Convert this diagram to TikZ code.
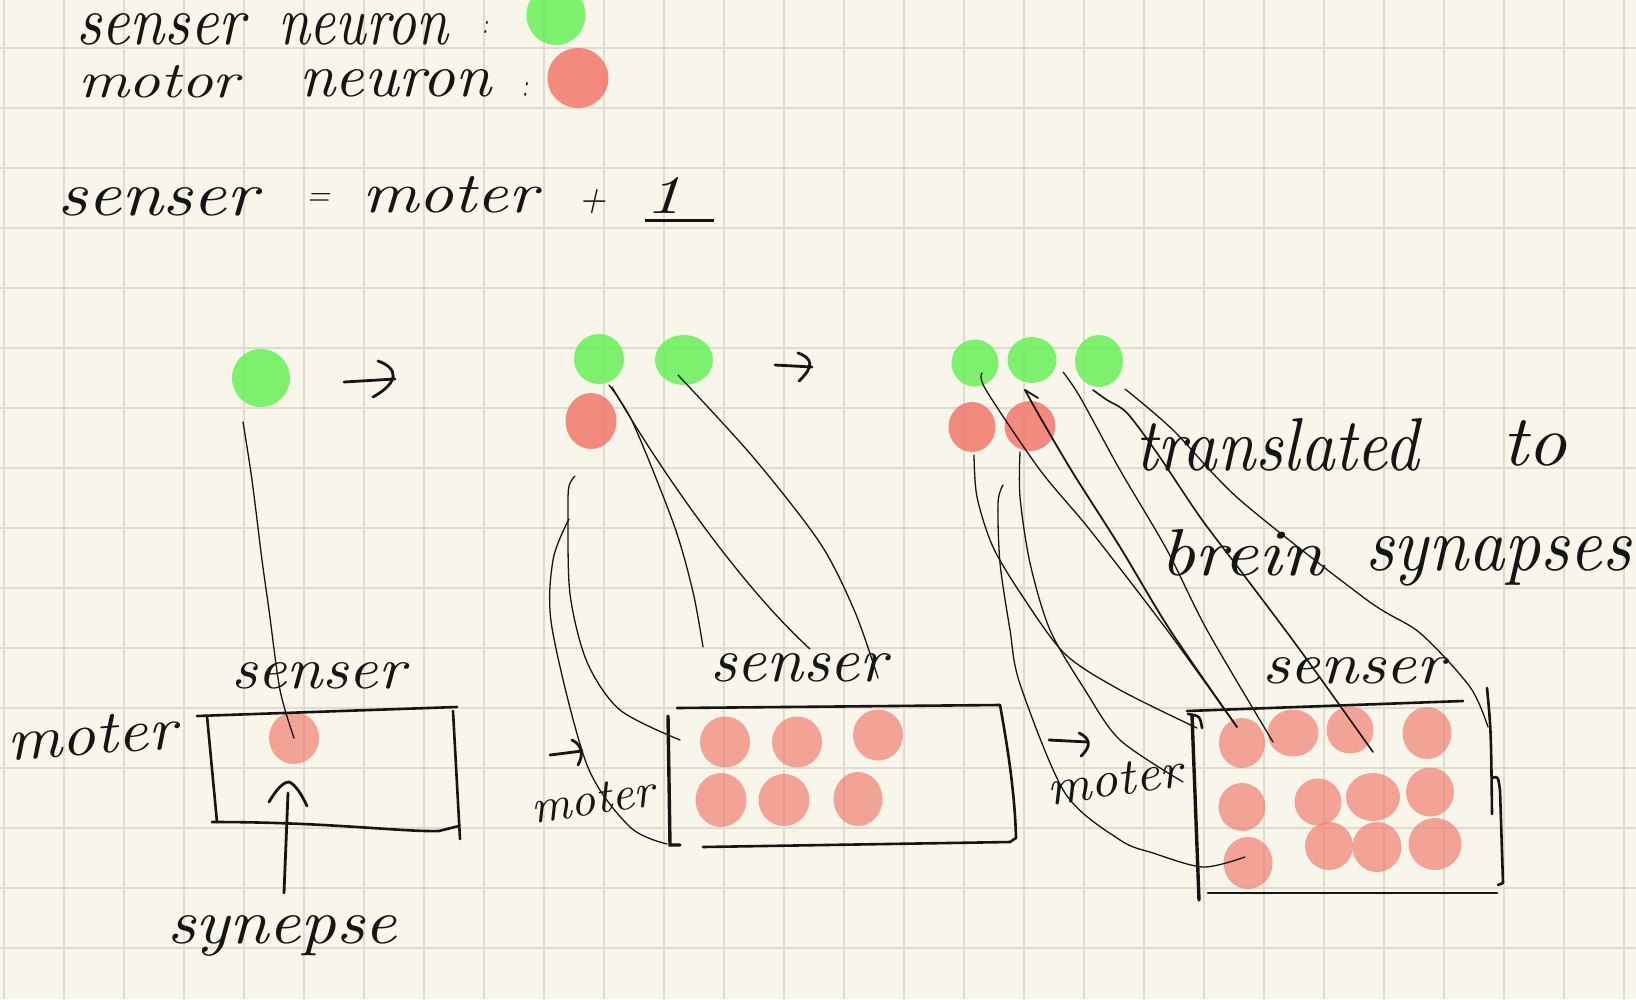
\documentclass[tikz,border=0pt]{standalone}
\usepackage{graphicx}
\usetikzlibrary{shapes.geometric}
\definecolor{paper}{HTML}{F8F6EA}
\definecolor{gridc}{HTML}{DFDBCF}
\definecolor{neugreen}{HTML}{68EF58}
\definecolor{neured}{HTML}{F1786C}
\definecolor{ink}{HTML}{151515}
\newcommand{\handw}[3]{\resizebox{#1pt}{#2pt}{\itshape #3}}
\tikzset{
  gridline/.style={gridc, line width=2.4pt},
  dotsz/.style 2 args={minimum width=#1pt, minimum height=#2pt},
  gdot/.style={ellipse, fill=neugreen, fill opacity=0.85, draw=none, inner sep=0pt, outer sep=0pt},
  tdot/.style={ellipse, fill=neured, fill opacity=0.85, draw=none, inner sep=0pt, outer sep=0pt},
  bdot/.style={ellipse, fill=neured, fill opacity=0.66, draw=none, inner sep=0pt, outer sep=0pt},
  hw/.style={inner sep=0pt, outer sep=0pt, anchor=base west, text=ink},
  wire/.style={ink, line width=1.3pt, line cap=round, line join=round},
  boxline/.style={ink, line width=2.6pt, line cap=round, line join=round},
  pen/.style={ink, line width=2.8pt, line cap=round, line join=round},
}
\begin{document}
\begin{tikzpicture}[x=1pt, y=-1pt]
\useasboundingbox (0,0) rectangle (1636,999);
\fill[paper] (0,0) rectangle (1636,999);
\foreach \i in {0,...,27} \draw[gridline] ({4+60*\i},0) -- ({4+60*\i},999);
\foreach \j in {0,...,15} \draw[gridline] (0,{48+60*\j}) -- (1636,{48+60*\j});

% ---------- legend ----------
\node[gdot, dotsz={59}{60}] (lg) at (556,15) {};
\node[tdot, dotsz={61}{60}] (lr) at (578,78) {};
\node[hw] (l1a) at (76,44) {\handw{169}{31}{senser}};
\node[hw] (l1b) at (278,44) {\handw{170}{31}{neuron}};
\node[hw] (l1c) at (482,33) {\handw{6}{12}{:}};
\node[hw] (l2a) at (78,97) {\handw{161}{32}{motor}};
\node[hw] (l2b) at (299,96) {\handw{192}{27}{neuron}};
\node[hw] (l2c) at (522,96) {\handw{6}{14}{:}};
\node[hw] (l3a) at (57,215) {\handw{201}{28}{senser}};
\node[hw] (l3b) at (306,205) {\handw{24}{12}{=}};
\node[hw] (l3c) at (362,212) {\handw{175}{36}{moter}};
\node[hw] (l3d) at (578,211) {\handw{28}{22}{+}};
\node[hw] (l3e) at (645,213) {\handw{69}{36}{\underline{1\hspace{0.45em}}}};

% ---------- diagram 1 ----------
\node[gdot, dotsz={58}{58}] (ga) at (261,378) {};
\node[bdot, dotsz={50}{52}] (d1) at (294,738) {};
\draw[pen] (344,382) -- (395,379);
\draw[pen] (378,361) .. controls (398,368) and (400,382) .. (373,397);
\draw[boxline] (197,716) -- (457,707);
\draw[boxline] (207,716) -- (217,822);
\draw[boxline] (212,822) .. controls (330,822) and (400,832) .. (439,831) -- (459,826);
\draw[boxline] (453,711) -- (460,839);
\node[hw] (s1) at (231,688) {\handw{174}{26}{senser}};
\node[hw, rotate=4] (m1) at (8,760) {\handw{170}{38}{moter}};
\node[hw] (syn) at (167,943) {\handw{230}{28}{synepse}};
\coordinate (p1a) at (284,893);
\coordinate (p1b) at (288,793);
\draw[pen] (p1a) -- (p1b);
\draw[pen] (269,802) .. controls (276,790) and (283,782) .. (289,782) .. controls (295,784) and (302,795) .. (307,806);
\coordinate (w1s) at (243,422);
\draw[wire] plot[smooth] coordinates {(w1s) (252,480) (262,560) (269,610) (280,690) (d1.center)};

% ---------- diagram 2 ----------
\node[gdot, dotsz={50}{50}] (gb1) at (599,359) {};
\node[gdot, dotsz={58}{50}] (gb2) at (684,360) {};
\node[tdot, dotsz={51}{56}] (rb1) at (591,421) {};
\draw[pen] (775,365) -- (812,367);
\draw[pen] (798,353) .. controls (812,358) and (815,366) .. (799,381);
\node[bdot, dotsz={50}{51}] (b21) at (725,742) {};
\node[bdot, dotsz={50}{51}] (b22) at (797,742) {};
\node[bdot, dotsz={50}{51}] (b23) at (878,735) {};
\node[bdot, dotsz={51}{54}] (b24) at (721,800) {};
\node[bdot, dotsz={51}{52}] (b25) at (784,800) {};
\node[bdot, dotsz={49}{54}] (b26) at (858,799) {};
\draw[boxline] (677,708) -- (1000,705);
\draw[boxline] (1000,705) .. controls (1010,760) and (1015,800) .. (1016,838) -- (1010,842) -- (703,847);
\draw[ink, line width=3.4pt, line cap=round] (668,716) -- (670,845) -- (680,845);
\node[hw] (s2) at (710,681) {\handw{177}{28}{senser}};
\node[hw, rotate=8] (m2) at (533,823) {\handw{124}{30}{moter}};
\draw[pen] (550,755) -- (582,751);
\draw[pen] (572,740) .. controls (582,745) and (584,754) .. (578,765);
\coordinate (w2a) at (609,385);
\coordinate (w2b) at (612,387);
\coordinate (w2c) at (678,375);
\coordinate (w2d) at (575,476);
\coordinate (w2e) at (569,519);
\coordinate (e2a) at (703,647);
\coordinate (e2b) at (810,649);
\coordinate (e2c) at (878,678);
\coordinate (e2d) at (680,740);
\coordinate (e2e) at (667,844);
\draw[wire] plot[smooth] coordinates {(w2a) (633,423) (674,525) (693,592) (e2a)};
\draw[wire] (w2b) .. controls (660,470) and (740,585) .. (e2b);
\draw[wire] plot[smooth] coordinates {(w2c) (753,457) (820,543) (855,612) (e2c)};
\draw[wire] plot[smooth] coordinates {(w2d) (569,486) (568,512) (570,594) (587,662) (620,710) (e2d)};
\draw[wire] plot[smooth] coordinates {(w2e) (553,560) (552,628) (587,765) (630,827) (e2e)};

% ---------- diagram 3 ----------
\node[gdot, dotsz={47}{47}] (gc1) at (975,363) {};
\node[gdot, dotsz={49}{46}] (gc2) at (1032,360) {};
\node[gdot, dotsz={48}{52}] (gc3) at (1099,361) {};
\node[tdot, dotsz={47}{50}] (rc1) at (972,427) {};
\node[tdot, dotsz={51}{50}] (rc2) at (1030,426) {};
\node[bdot, dotsz={46}{50}] (c11) at (1242,743) {};
\node[bdot, dotsz={51}{47}] (c12) at (1293,733) {};
\node[bdot, dotsz={47}{47}] (c13) at (1350,730) {};
\node[bdot, dotsz={49}{52}] (c14) at (1427,733) {};
\node[bdot, dotsz={47}{48}] (c21) at (1242,807) {};
\node[bdot, dotsz={47}{47}] (c22) at (1318,802) {};
\node[bdot, dotsz={54}{48}] (c23) at (1373,797) {};
\node[bdot, dotsz={48}{49}] (c24) at (1430,792) {};
\node[bdot, dotsz={49}{52}] (c31) at (1248,863) {};
\node[bdot, dotsz={48}{48}] (c32) at (1329,846) {};
\node[bdot, dotsz={49}{50}] (c33) at (1377,847) {};
\node[bdot, dotsz={53}{52}] (c34) at (1435,844) {};
\draw[boxline] (1187,711) -- (1463,701);
\draw[ink, line width=3.4pt, line cap=round] (1192,715) -- (1199,900);
\draw[boxline] (1188,714) .. controls (1200,716) .. (1202,728);
\draw[boxline] (1487,688) .. controls (1491,730) .. (1492,814);
\draw[boxline] (1492,778) .. controls (1498,776) .. (1500,790) -- (1503,883) -- (1498,885);
\draw[boxline] (1208,893) -- (1497,893);
\node[hw] (s3) at (1262,683) {\handw{183}{26}{senser}};
\node[hw, rotate=8] (m3) at (1049,805) {\handw{136}{32}{moter}};
\draw[pen] (1049,740) -- (1088,742);
\draw[pen] (1079,733) .. controls (1090,738) and (1092,746) .. (1081,756);
\node[hw] (tr) at (1135,470) {\handw{284}{52}{translated}};
\node[hw] (to) at (1502,465) {\handw{65}{45}{to}};
\node[hw] (br) at (1160,575) {\handw{164}{46}{brein}};
\node[hw] (sy) at (1365,570) {\handw{266}{34}{synapses}};
\coordinate (w3a) at (982,373);
\coordinate (w3b) at (1025,390);
\coordinate (w3c) at (1063,372);
\coordinate (w3d) at (1093,390);
\coordinate (w3e) at (1125,389);
\coordinate (w3f) at (974,455);
\coordinate (w3g) at (1003,485);
\coordinate (w3h) at (1020,452);
\coordinate (e3ab) at (1237,727);
\coordinate (e3c) at (1273,742);
\coordinate (e3d) at (1373,752);
\coordinate (e3e) at (1488,727);
\coordinate (e3f) at (1197,728);
\coordinate (e3g) at (1245,857);
\coordinate (e3h) at (1183,782);
\draw[wire] plot[smooth] coordinates {(w3a) (986,390) (1040,470) (1090,530) (1167,630) (e3ab)};
\draw[wire, line width=1.8pt] (1038,398) -- (w3b);
\draw[wire, line width=1.8pt] plot[smooth] coordinates {(w3b) (1040,417) (1073,473) (1120,547) (1170,630) (e3ab)};
\draw[wire] plot[smooth] coordinates {(w3c) (1080,397) (1120,470) (1167,550) (1207,630) (e3c)};
\draw[wire, line width=1.6pt] plot[smooth] coordinates {(w3d) (1107,400) (1127,413) (1157,453) (1200,517) (1240,570) (1300,650) (e3d)};
\draw[wire] plot[smooth] coordinates {(w3e) (1173,430) (1240,500) (1367,600) (1420,633) (1470,687) (e3e)};
\draw[wire] plot[smooth] coordinates {(w3f) (977,497) (993,547) (1023,597) (1065,654) (1120,690) (e3f)};
\draw[wire] plot[smooth] coordinates {(w3g) (998,503) (1000,563) (1010,630) (1020,684) (1065,793) (1120,840) (1153,853) (1203,867) (e3g)};
\draw[wire] plot[smooth] coordinates {(w3h) (1020,497) (1030,563) (1050,630) (1085,690) (1120,740) (e3h)};
\end{tikzpicture}
\end{document}
